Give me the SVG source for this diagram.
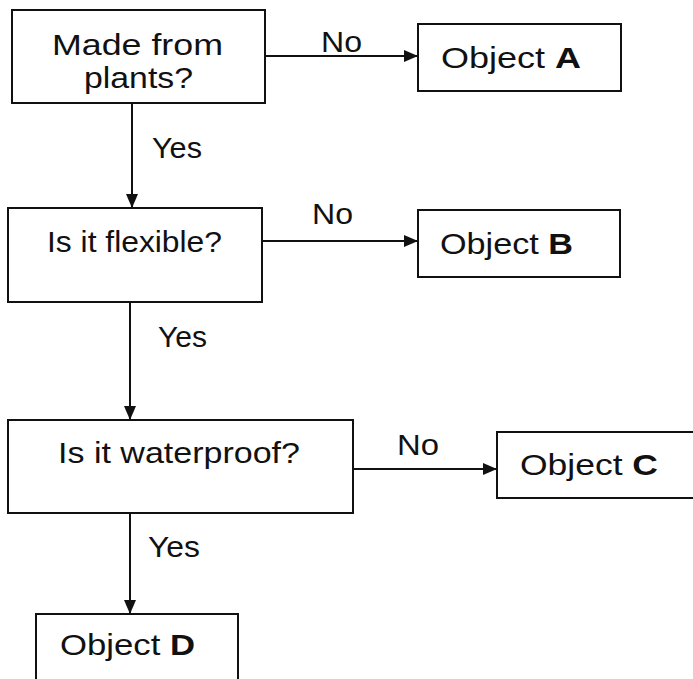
<svg xmlns="http://www.w3.org/2000/svg" width="693" height="679" viewBox="0 0 693 679">
<style>
.box{fill:#fff;stroke:#111;stroke-width:2}
.t{font-family:"Liberation Sans",Arial,sans-serif;font-size:30px;fill:#111}
.c{stroke:#111;stroke-width:2;fill:none}
.b{font-weight:bold}
</style>
<defs>
<marker id="ah" markerUnits="userSpaceOnUse" markerWidth="14" markerHeight="12" refX="14" refY="6" orient="auto">
<path d="M0,0 L14,6 L0,12 Z" fill="#111"/>
</marker>
</defs>
<rect width="693" height="679" fill="#fff"/>
<g id="connectors">
<line class="c" x1="265" y1="56" x2="418" y2="56" marker-end="url(#ah)"/>
<line class="c" x1="132" y1="103" x2="132" y2="208" marker-end="url(#ah)"/>
<line class="c" x1="262" y1="241" x2="418" y2="241" marker-end="url(#ah)"/>
<line class="c" x1="130" y1="302" x2="130" y2="420" marker-end="url(#ah)"/>
<line class="c" x1="353" y1="469" x2="497" y2="469" marker-end="url(#ah)"/>
<line class="c" x1="130" y1="513" x2="130" y2="614" marker-end="url(#ah)"/>
<text class="t" x="321" y="52" textLength="41" lengthAdjust="spacingAndGlyphs">No</text>
<text class="t" x="152" y="158" textLength="50" lengthAdjust="spacingAndGlyphs">Yes</text>
<text class="t" x="312" y="224" textLength="41" lengthAdjust="spacingAndGlyphs">No</text>
<text class="t" x="158" y="347" textLength="49" lengthAdjust="spacingAndGlyphs">Yes</text>
<text class="t" x="397" y="455" textLength="42" lengthAdjust="spacingAndGlyphs">No</text>
<text class="t" x="148" y="557" textLength="52" lengthAdjust="spacingAndGlyphs">Yes</text>
</g>
<g id="q1">
<rect class="box" x="12" y="10" width="253" height="93"/>
<text class="t" x="52" y="55" textLength="171" lengthAdjust="spacingAndGlyphs">Made from</text>
<text class="t" x="84" y="88" textLength="109" lengthAdjust="spacingAndGlyphs">plants?</text>
</g>
<g id="objA">
<rect class="box" x="418" y="24" width="203" height="67"/>
<text class="t" x="441" y="68" textLength="140" lengthAdjust="spacingAndGlyphs">Object <tspan class="b">A</tspan></text>
</g>
<g id="q2">
<rect class="box" x="8" y="208" width="254" height="94"/>
<text class="t" x="47" y="252" textLength="175" lengthAdjust="spacingAndGlyphs">Is it flexible?</text>
</g>
<g id="objB">
<rect class="box" x="418" y="210" width="202" height="67"/>
<text class="t" x="440" y="254" textLength="133" lengthAdjust="spacingAndGlyphs">Object <tspan class="b">B</tspan></text>
</g>
<g id="q3">
<rect class="box" x="8" y="420" width="345" height="93"/>
<text class="t" x="58" y="463" textLength="242" lengthAdjust="spacingAndGlyphs">Is it waterproof?</text>
</g>
<g id="objC">
<rect class="box" x="497" y="432" width="200" height="66"/>
<text class="t" x="520" y="475" textLength="138" lengthAdjust="spacingAndGlyphs">Object <tspan class="b">C</tspan></text>
</g>
<g id="objD">
<rect class="box" x="36" y="614" width="202" height="72"/>
<text class="t" x="60" y="655" textLength="135" lengthAdjust="spacingAndGlyphs">Object <tspan class="b">D</tspan></text>
</g>
</svg>
